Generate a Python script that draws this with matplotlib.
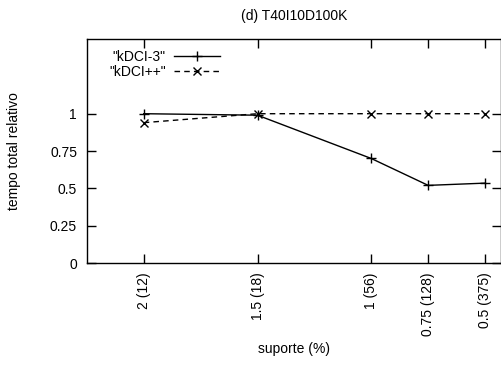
import numpy as np
import matplotlib.pyplot as plt

plt.rcParams['font.family'] = ['Liberation Sans', 'DejaVu Sans']
plt.rcParams['font.size'] = 10

labels = ["2 (12)", "1.5 (18)", "1 (56)", "0.75 (128)", "0.5 (375)"]
pos = [0, 2, 4, 5, 6]
kdci3 = [1.0, 0.99, 0.70, 0.52, 0.535]
kdcipp = [0.94, 1.0, 1.0, 1.0, 1.0]

fig = plt.figure(figsize=(5.02, 3.72), dpi=100)
ax = fig.add_axes([0.173, 0.293, 0.825, 0.602])

ax.plot(pos, kdci3, color='black', lw=1, marker='+', ms=7, mew=1, label='"kDCI-3"')
ax.plot(pos, kdcipp, color='black', lw=1, ls=(0, (4, 3)), marker='x', ms=6, mew=1, label='"kDCI++"')

ax.set_xlim(-1, 6.28)
ax.set_ylim(0, 1.5)
ax.set_xticks(pos)
ax.set_xticklabels(labels, rotation=90)
ax.set_yticks([0, 0.25, 0.5, 0.75, 1])
ax.set_yticklabels(["0", "0.25", "0.5", "0.75", "1"])
ax.tick_params(direction='in', length=6.5, width=1, top=True, right=True, pad=7)
for s in ax.spines.values():
    s.set_linewidth(1)

ax.set_title("(d) T40I10D100K", fontsize=10, pad=14)
ax.set_xlabel("suporte (%)", labelpad=4)
ax.set_ylabel("tempo total relativo", labelpad=21)

ax.legend(loc='upper left', bbox_to_anchor=(0.03, 0.995), frameon=False, markerfirst=False,
          handlelength=3.3, handletextpad=0.6, labelspacing=0.1, borderaxespad=0.3)

fig.savefig("out.png", dpi=100)
